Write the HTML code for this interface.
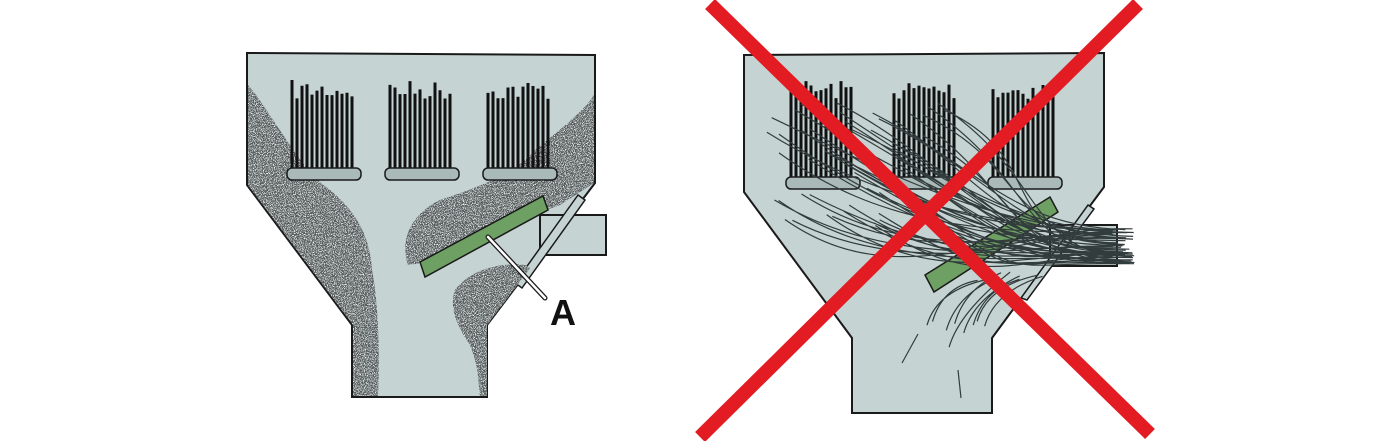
<!DOCTYPE html>
<html><head><meta charset="utf-8"><style>html,body{margin:0;padding:0;background:#fff}svg{display:block}</style></head>
<body>
<svg id="s" width="1400" height="441" viewBox="0 0 1400 441" xmlns="http://www.w3.org/2000/svg">
<defs>
<filter id="noise" x="0" y="0" width="100%" height="100%">
<feTurbulence type="fractalNoise" baseFrequency="1.1" numOctaves="2" seed="3" result="t"/>
<feColorMatrix in="t" type="matrix" values="0 0 0 0 0.78  0 0 0 0 0.83  0 0 0 0 0.83  0 0 0 12 -6.2" result="n"/>
<feComposite in="n" in2="SourceGraphic" operator="in"/>
</filter>
</defs>
<!-- LEFT hopper -->
<path d="M247,53 L595,55 L595,183 L487,325 L487,397 L352,397 L352,325 L247,185 Z" fill="#c5d4d3" stroke="#1a1a1a" stroke-width="2"/>
<rect x="540" y="215" width="66" height="40" fill="#c5d4d3" stroke="#1a1a1a" stroke-width="2"/>
<path d="M578,195 L585,200 L522,288 L515,283 Z" fill="#c5d4d3" stroke="#1a1a1a" stroke-width="1.5"/>
<g id="dust">
<path d="M248,85 C270,110 300,170 330,190 C360,215 370,240 372,270 C378,300 380,350 378,396 L353,396 L353,325 L248,185 Z"/>
<path d="M594,95 C585,110 560,130 535,150 C515,175 470,190 440,200 C410,215 400,240 408,265 L430,262 C470,240 520,220 560,205 L594,183 Z"/>
<path d="M525,265 C500,262 470,270 455,290 C448,310 460,330 470,345 C480,370 478,385 480,396 L487,396 L487,325 L530,268 Z"/>
</g>
<g id="brushL"></g>
<path d="M420,262 L543,196 L548,210 L425,277 Z" fill="#6ea063" stroke="#1a1a1a" stroke-width="1.5"/>
<line x1="488" y1="237" x2="545" y2="298" stroke="#1a1a1a" stroke-width="5" stroke-linecap="round"/>
<line x1="488" y1="237" x2="545" y2="298" stroke="#fff" stroke-width="2.5" stroke-linecap="round"/>
<text x="563" y="325" font-family="Liberation Sans, sans-serif" font-weight="bold" font-size="36" text-anchor="middle" fill="#111">A</text>
<!-- RIGHT hopper -->
<path d="M744,55 L1104,53 L1104,187 L1020,300 L992,338 L992,413 L852,413 L852,338 L744,192 Z" fill="#c5d4d3" stroke="#1a1a1a" stroke-width="2"/>
<rect x="1050" y="225" width="67" height="41" fill="#c5d4d3" stroke="#1a1a1a" stroke-width="2"/>
<path d="M1088,205 L1094,209 L1027,300 L1021,298 Z" fill="#c5d4d3" stroke="#1a1a1a" stroke-width="1.5"/>
<g id="brushR"></g>
<path d="M925,275 L1050,197 L1058,212 L934,292 Z" fill="#6ea063" stroke="#1a1a1a" stroke-width="1.5"/>
<g id="fibers" fill="none" stroke="#333c3d" stroke-width="1.2"></g>
<line x1="710" y1="4" x2="1150" y2="434" stroke="#e31b23" stroke-width="14"/>
<line x1="1138" y1="4" x2="700" y2="437" stroke="#e31b23" stroke-width="14"/>
</svg>
<script>
(function(){
var NS="http://www.w3.org/2000/svg";
var seed=7;function r(){seed=(seed*16807)%2147483647;return seed/2147483647;}
function el(p,t,a){var e=document.createElementNS(NS,t);for(var k in a)e.setAttribute(k,a[k]);p.appendChild(e);return e;}
// dust: dark base + light speckles
var dg=document.getElementById("dust");
var paths=[].slice.call(dg.querySelectorAll("path"));
paths.forEach(function(p){p.setAttribute("fill","#575c5d");
  var c=p.cloneNode();c.setAttribute("fill","#000");c.setAttribute("filter","url(#noise)");dg.appendChild(c);});
function brush(g,x,top,bot){
  for(var i=0;i<13;i++){var bx=x+5+i*5;var h=top+r()*20;
    el(g,"line",{x1:bx,y1:h,x2:bx,y2:bot,stroke:"#111",'stroke-width':3});}
  el(g,"rect",{x:x,y:bot,width:74,height:12,rx:5,fill:"#a9bab8",stroke:"#1a1a1a",'stroke-width':1.5});
}
var L=document.getElementById("brushL"),R=document.getElementById("brushR");
[287,385,483].forEach(function(x){brush(L,x,80,168);});
[786,889,988].forEach(function(x){brush(R,x,80,177);});
var f=document.getElementById("fibers"),d="";
for(var i=0;i<55;i++){
  var sx=765+r()*180,sy=100+r()*130;var ey=228+r()*36;var ex=1110+r()*25;
  d+="M"+sx.toFixed(1)+","+sy.toFixed(1)+" C"+(sx+110).toFixed(1)+","+(sy+50+r()*30).toFixed(1)+" "+(990+r()*40).toFixed(1)+","+(ey-3).toFixed(1)+" "+ex.toFixed(1)+","+ey.toFixed(1)+" ";
}
for(var j=0;j<9;j++){
  var x0=925+r()*60,y0=320+r()*30;
  d+="M"+x0.toFixed(1)+","+y0.toFixed(1)+" Q"+(x0+10).toFixed(1)+","+(y0-35).toFixed(1)+" "+(x0+45+r()*20).toFixed(1)+","+(272+r()*10).toFixed(1)+" ";
}
d+="M902,363 L918,334 M958,370 L961,398";
el(f,"path",{d:d});
})();
</script>
</body></html>
